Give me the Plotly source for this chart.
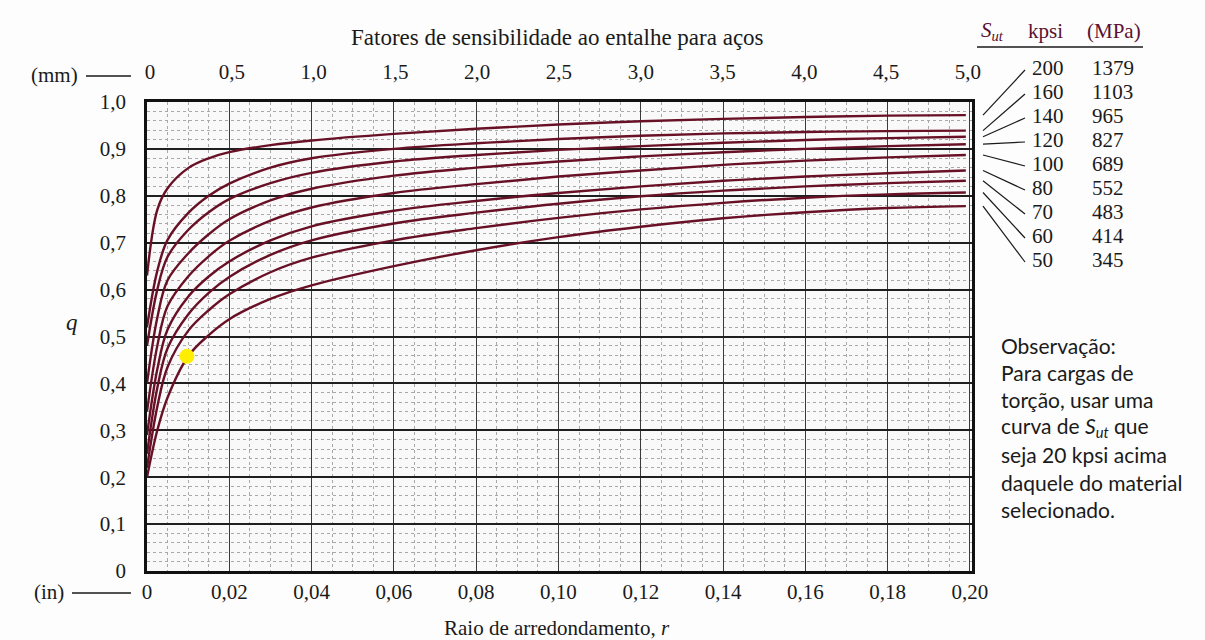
import plotly.graph_objects as go

# ---------------- data ----------------
r_in = [0, 0.0025, 0.005, 0.01, 0.015, 0.02, 0.03, 0.04, 0.06, 0.08,
        0.10, 0.12, 0.14, 0.16, 0.18, 0.199]

q_200 = [0.63, 0.770, 0.816, 0.859, 0.880, 0.893, 0.908, 0.918, 0.932, 0.943,
         0.952, 0.959, 0.964, 0.968, 0.971, 0.972]
q_160 = [0.52, 0.640, 0.706, 0.763, 0.800, 0.826, 0.860, 0.880, 0.900, 0.912,
         0.921, 0.928, 0.933, 0.936, 0.938, 0.939]
q_140 = [0.48, 0.600, 0.670, 0.727, 0.765, 0.793, 0.827, 0.849, 0.873, 0.887,
         0.898, 0.906, 0.913, 0.919, 0.923, 0.926]
q_120 = [0.40, 0.540, 0.620, 0.677, 0.718, 0.750, 0.790, 0.815, 0.843, 0.860,
         0.873, 0.884, 0.893, 0.900, 0.906, 0.910]
q_100 = [0.34, 0.480, 0.565, 0.628, 0.671, 0.704, 0.747, 0.775, 0.806, 0.825,
         0.841, 0.854, 0.866, 0.875, 0.882, 0.887]
q_80 = [0.29, 0.430, 0.515, 0.585, 0.628, 0.660, 0.705, 0.735, 0.768, 0.789,
        0.806, 0.820, 0.832, 0.841, 0.848, 0.854]
q_70 = [0.25, 0.390, 0.475, 0.547, 0.593, 0.627, 0.674, 0.705, 0.741, 0.764,
        0.783, 0.799, 0.811, 0.820, 0.827, 0.832]
q_60 = [0.22, 0.350, 0.435, 0.512, 0.556, 0.590, 0.637, 0.668, 0.705, 0.731,
        0.753, 0.771, 0.785, 0.796, 0.803, 0.807]
q_50 = [0.20, 0.300, 0.370, 0.458, 0.503, 0.537, 0.580, 0.609, 0.650, 0.684,
        0.712, 0.734, 0.752, 0.765, 0.774, 0.778]

sut_kpsi = ["200", "160", "140", "120", "100", "80", "70", "60", "50"]
sut_mpa = ["1379", "1103", "965", "827", "689", "552", "483", "414", "345"]
curves = [q_200, q_160, q_140, q_120, q_100, q_80, q_70, q_60, q_50]

x_ticks_in = [0, 0.02, 0.04, 0.06, 0.08, 0.10, 0.12, 0.14, 0.16, 0.18, 0.20]
x_labels_in = ["0", "0,02", "0,04", "0,06", "0,08", "0,10", "0,12", "0,14",
               "0,16", "0,18", "0,20"]
x_ticks_mm = [0, 0.5, 1.0, 1.5, 2.0, 2.5, 3.0, 3.5, 4.0, 4.5, 5.0]
x_labels_mm = ["0", "0,5", "1,0", "1,5", "2,0", "2,5", "3,0", "3,5", "4,0",
               "4,5", "5,0"]
y_ticks = [0, 0.1, 0.2, 0.3, 0.4, 0.5, 0.6, 0.7, 0.8, 0.9, 1.0]
y_labels = ["0", "0,1", "0,2", "0,3", "0,4", "0,5", "0,6", "0,7", "0,8",
            "0,9", "1,0"]

marked_point_r = [0.0097]
marked_point_q = [0.458]

note_lines = ["Observação:", "Para cargas de", "torção, usar uma",
              "curva de <i>S<sub>ut</sub></i> que", "seja 20 kpsi acima",
              "daquele do material", "selecionado."]

# ---------------- layout helpers (pixel -> paper) ----------------
L, R, T, B = 147, 972, 102, 571
W, H = R - L, B - T


def px(xp):
    return (xp - L) / W


def py(yp):
    return (B - yp) / H


SERIF = "Liberation Serif, Times New Roman, serif"
SANS = "Lato, Open Sans, sans-serif"
INK = "#1a1a1a"
CURVE = "#681126"

fig = go.Figure()

for q in curves:
    fig.add_trace(go.Scatter(
        x=r_in, y=q, mode="lines",
        line=dict(color=CURVE, width=2.4, shape="spline", smoothing=1.0),
        hoverinfo="skip", showlegend=False))

fig.add_trace(go.Scatter(
    x=marked_point_r, y=marked_point_q, mode="markers",
    marker=dict(color="#ffee00", size=15, line=dict(width=0)),
    hoverinfo="skip", showlegend=False))

# invisible trace to activate top (mm) axis
fig.add_trace(go.Scatter(x=[0, 5], y=[None, None], xaxis="x2", yaxis="y",
                         mode="lines", showlegend=False, hoverinfo="skip"))

shapes = []
annotations = []

# leader lines from curve ends to the labels
row_y = [68 + 24 * i for i in range(9)]
for i, q in enumerate(curves):
    shapes.append(dict(type="line", xref="paper", yref="paper",
                       x0=px(983), y0=q[-1], x1=px(1025), y1=py(row_y[i] + 2),
                       line=dict(color=INK, width=1.2)))
    annotations.append(dict(xref="paper", yref="paper", x=px(1030),
                            y=py(row_y[i]), text=sut_kpsi[i], showarrow=False,
                            xanchor="left", yanchor="middle",
                            font=dict(family=SERIF, size=21, color=INK)))
    annotations.append(dict(xref="paper", yref="paper", x=px(1090),
                            y=py(row_y[i]), text=sut_mpa[i], showarrow=False,
                            xanchor="left", yanchor="middle",
                            font=dict(family=SERIF, size=21, color=INK)))

# legend header
annotations += [
    dict(xref="paper", yref="paper", x=px(992), y=py(31),
         text="<i>S<sub>ut</sub></i>", showarrow=False, xanchor="center",
         yanchor="middle", font=dict(family=SERIF, size=21, color="#5a1030")),
    dict(xref="paper", yref="paper", x=px(1045), y=py(31), text="kpsi",
         showarrow=False, xanchor="center", yanchor="middle",
         font=dict(family=SERIF, size=21, color="#5a1030")),
    dict(xref="paper", yref="paper", x=px(1114), y=py(31), text="(MPa)",
         showarrow=False, xanchor="center", yanchor="middle",
         font=dict(family=SERIF, size=21, color="#5a1030")),
]
shapes.append(dict(type="line", xref="paper", yref="paper",
                   x0=px(977), y0=py(47), x1=px(1143), y1=py(47),
                   line=dict(color=INK, width=1.5)))

# titles
annotations += [
    dict(xref="paper", yref="paper", x=px(557), y=py(38),
         text="Fatores de sensibilidade ao entalhe para aços",
         showarrow=False, xanchor="center", yanchor="middle",
         font=dict(family=SERIF, size=23, color=INK)),
    dict(xref="paper", yref="paper", x=px(557), y=py(628),
         text="Raio de arredondamento, <i>r</i>",
         showarrow=False, xanchor="center", yanchor="middle",
         font=dict(family=SERIF, size=21, color=INK)),
    dict(xref="paper", yref="paper", x=px(72), y=py(322), text="<i>q</i>",
         showarrow=False, xanchor="center", yanchor="middle",
         font=dict(family=SERIF, size=23, color=INK)),
    dict(xref="paper", yref="paper", x=px(80), y=py(75), text="(mm)",
         showarrow=False, xanchor="right", yanchor="middle",
         font=dict(family=SERIF, size=21, color=INK)),
    dict(xref="paper", yref="paper", x=px(66), y=py(592), text="(in)",
         showarrow=False, xanchor="right", yanchor="middle",
         font=dict(family=SERIF, size=21, color=INK)),
]
shapes += [
    dict(type="line", xref="paper", yref="paper", x0=px(86), y0=py(76),
         x1=px(131), y1=py(76), line=dict(color=INK, width=1.5)),
    dict(type="line", xref="paper", yref="paper", x0=px(72), y0=py(593),
         x1=px(131), y1=py(593), line=dict(color=INK, width=1.5)),
]

# note
for i, t in enumerate(note_lines):
    annotations.append(dict(xref="paper", yref="paper", x=px(999),
                            y=py(345 + 27.4 * i), text=t, showarrow=False,
                            xanchor="left", yanchor="middle",
                            font=dict(family=SANS, size=21, color=INK)))

fig.update_layout(
    width=1205, height=640,
    margin=dict(l=L, r=1205 - R, t=T, b=640 - B, autoexpand=False),
    paper_bgcolor="#fdfdfd", plot_bgcolor="#f9f9f9",
    showlegend=False,
    shapes=shapes, annotations=annotations,
    xaxis=dict(range=[0, 0.2005], tickvals=x_ticks_in, ticktext=x_labels_in,
               showgrid=True, gridcolor="#3a3a3a", gridwidth=1.3,
               minor=dict(dtick=0.005, tick0=0, showgrid=True,
                          gridcolor="#a8a8a8", griddash="dot", gridwidth=1),
               showline=True, linecolor="#111", linewidth=2.5, mirror=True,
               ticks="", zeroline=False,
               tickfont=dict(family=SERIF, size=21, color=INK)),
    xaxis2=dict(range=[-0.0183, 5.0245], overlaying="x", side="top",
                anchor="y", tickvals=x_ticks_mm, ticktext=x_labels_mm,
                showgrid=False, zeroline=False, showline=False,
                ticks="outside", ticklen=14, tickcolor="rgba(0,0,0,0)",
                tickfont=dict(family=SERIF, size=21, color=INK)),
    yaxis=dict(range=[0, 1.0], tickvals=y_ticks, ticktext=y_labels,
               showgrid=True, gridcolor="#1f1f1f", gridwidth=2,
               minor=dict(dtick=0.02, tick0=0, showgrid=True,
                          gridcolor="#a8a8a8", griddash="dot", gridwidth=1),
               showline=True, linecolor="#111", linewidth=2.5, mirror=True,
               ticks="outside", ticklen=14, tickcolor="rgba(0,0,0,0)",
               zeroline=False,
               tickfont=dict(family=SERIF, size=21, color=INK)),
)

fig.write_html("out.html")
